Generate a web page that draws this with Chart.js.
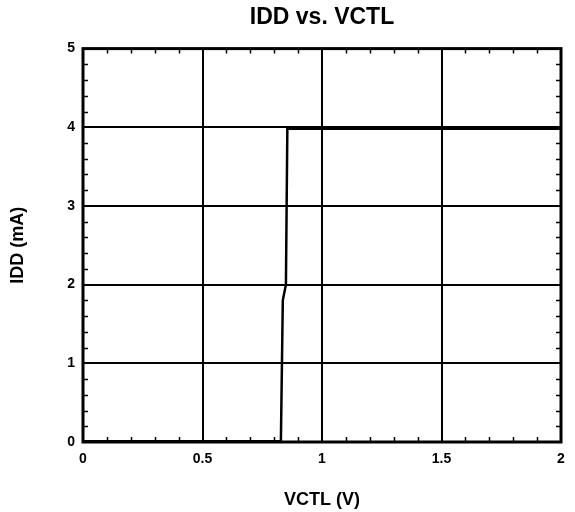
<!DOCTYPE html>
<html>
<head>
<meta charset="utf-8">
<script src="https://cdn.jsdelivr.net/npm/chart.js@4"></script>
<style>
    html, body { margin: 0; padding: 0; background: #fff; }
    #wrap { width: 575px; height: 512px; }
</style>
</head>
<body>
<div id="wrap"><canvas id="iddChart" width="575" height="512"></canvas></div>
<script>
// values
const vctl = [0, 0.828, 0.836, 0.849, 0.855, 2];
const idd = [0.01, 0.01, 1.8, 2.0, 3.98, 3.98];
const xTicks = [0, 0.5, 1, 1.5, 2];
const xTickLabels = ["0", "0.5", "1", "1.5", "2"];
const yTicks = [0, 1, 2, 3, 4, 5];
const yTickLabels = ["0", "1", "2", "3", "4", "5"];

const fontFamily = "Liberation Sans, Arial, sans-serif";
const tickFont = { family: fontFamily, size: 14, weight: "bold" };
const axisTitleFont = { family: fontFamily, size: 18, weight: "bold" };

// frame on all four sides plus small inward minor ticks
const frameAndMinor = {
    id: "frameAndMinor",
    afterDatasetsDraw(chart) {
        const ctx = chart.ctx;
        const a = chart.chartArea;
        const x = chart.scales.x;
        const y = chart.scales.y;
        ctx.save();
        ctx.strokeStyle = "#000";
        ctx.lineWidth = 1.5;
        ctx.beginPath();
        for (let v = 0.1; v < 2; v += 0.1) {
            if (Math.abs(v * 2 - Math.round(v * 2)) < 1e-6) continue;
            const px = Math.round(x.getPixelForValue(v)) + 0.5;
            ctx.moveTo(px, a.bottom); ctx.lineTo(px, a.bottom - 5);
            ctx.moveTo(px, a.top); ctx.lineTo(px, a.top + 5);
        }
        for (let v = 0.2; v < 5; v += 0.2) {
            if (Math.abs(v - Math.round(v)) < 1e-6) continue;
            const py = Math.round(y.getPixelForValue(v)) + 0.5;
            ctx.moveTo(a.left, py); ctx.lineTo(a.left + 5, py);
            ctx.moveTo(a.right, py); ctx.lineTo(a.right - 5, py);
        }
        ctx.stroke();
        ctx.lineWidth = 3;
        ctx.strokeRect(a.left, a.top, a.right - a.left, a.bottom - a.top);
        ctx.restore();
    }
};

new Chart(document.getElementById("iddChart"), {
    type: "scatter",
    data: {
        datasets: [{
            data: vctl.map((v, i) => ({ x: v, y: idd[i] })),
            showLine: true,
            borderColor: "#000",
            borderWidth: 2.5,
            pointRadius: 0,
            tension: 0,
            fill: false
        }]
    },
    options: {
        responsive: false,
        animation: false,
        layout: { padding: { left: 0, right: 14, top: 0, bottom: 0 } },
        plugins: {
            legend: { display: false },
            tooltip: { enabled: false },
            title: {
                display: true,
                fullSize: false,
                text: "IDD vs. VCTL",
                color: "#000",
                font: { family: fontFamily, size: 23, weight: "bold" },
                padding: { top: 4, bottom: 17 }
            }
        },
        scales: {
            x: {
                type: "linear",
                min: 0,
                max: 2,
                afterBuildTicks: s => { s.ticks = xTicks.map(v => ({ value: v })); },
                afterFit: s => { s.height = 70; },
                ticks: {
                    color: "#000",
                    font: tickFont,
                    padding: 9,
                    callback: (v, i) => xTickLabels[i]
                },
                grid: { color: "#000", lineWidth: 2, drawTicks: false },
                border: { display: false },
                title: {
                    display: true,
                    text: "VCTL (V)",
                    color: "#000",
                    font: axisTitleFont,
                    padding: { top: 0, bottom: 1 }
                }
            },
            y: {
                type: "linear",
                min: 0,
                max: 5,
                afterBuildTicks: s => { s.ticks = yTicks.map(v => ({ value: v })); },
                afterFit: s => { s.width = 83; },
                ticks: {
                    color: "#000",
                    font: tickFont,
                    padding: 8,
                    callback: (v, i) => yTickLabels[i]
                },
                grid: { color: "#000", lineWidth: 2, drawTicks: false },
                border: { display: false },
                title: {
                    display: true,
                    text: "IDD (mA)",
                    color: "#000",
                    font: axisTitleFont,
                    padding: { top: 7, bottom: 0 }
                }
            }
        }
    },
    plugins: [frameAndMinor]
});
</script>
</body>
</html>
